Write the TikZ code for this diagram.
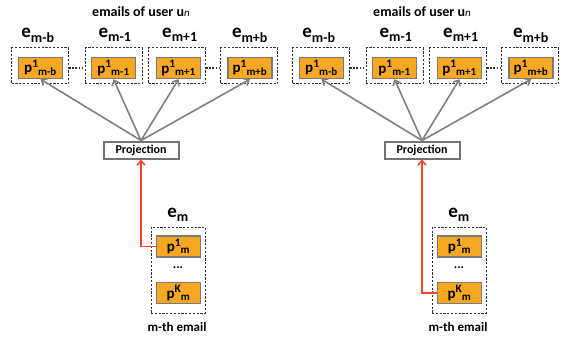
\documentclass[tikz,border=0pt]{standalone}
\usepackage{fontspec}
\setmainfont{Carlito}
\usetikzlibrary{arrows.meta}
\definecolor{orfill}{HTML}{F7A823}
\definecolor{orborder}{HTML}{7A7A7A}
\definecolor{arrgray}{HTML}{7F7F7F}
\definecolor{redarr}{HTML}{F2452B}
\tikzset{
  outerbox/.style={draw=black!80, dash pattern=on 2.2pt off 1.6pt, line width=1pt, minimum width=57pt, minimum height=36pt, inner sep=0pt},
  pbox/.style={draw=orborder, fill=orfill, line width=1.5pt, minimum width=44pt, minimum height=21pt, inner sep=0pt, font=\fontsize{15}{16}\selectfont\bfseries},
  elabel/.style={font=\fontsize{19}{20}\selectfont\bfseries, inner sep=0pt},
  projbox/.style={draw=black!55, line width=2pt, minimum width=75pt, minimum height=17pt, inner sep=0pt, font=\fontsize{12}{13}\selectfont\bfseries},
  titletext/.style={font=\fontsize{14}{15}\selectfont\bfseries, inner sep=0pt},
  grayarr/.style={draw=arrgray, line width=1.6pt, -{Straight Barb[length=4.5pt,width=8pt]}},
  redarrow/.style={draw=redarr, line width=1.5pt, -{Straight Barb[length=4.5pt,width=8pt]}},
  dotsline/.style={draw=black!80, line width=1.3pt, dash pattern=on 1.6pt off 1.6pt},
  ptext/.style={font=\fontsize{13}{14}\selectfont\bfseries, inner sep=0pt}
}
\newcommand{\psub}[2]{p\textsuperscript{\fontsize{11.5}{11.5}\selectfont #1}\kern-0.5pt\textsubscript{\fontsize{11}{11}\selectfont #2}}
\newcommand{\esub}[1]{e\raisebox{-1pt}{\textsubscript{\fontsize{14}{14}\selectfont #1}}}
\newcommand{\mypanel}[3]{%
  \begin{scope}[xshift=#2]
  \node[titletext] (#1title) at (141,12) {emails of user \textbf{u}{\fontsize{11}{11}\selectfont\mdseries\itshape n}};
  \node[outerbox] (#1o1) at (40,66) {};
  \node[outerbox] (#1o2) at (113.5,66) {};
  \node[outerbox] (#1o3) at (177,66) {};
  \node[outerbox] (#1o4) at (249,66) {};
  \node[pbox] (#1p1) at (40.5,68) {\psub{1}{m-b}};
  \node[pbox] (#1p2) at (113.5,68) {\psub{1}{m-1}};
  \node[pbox] (#1p3) at (178.5,68) {\psub{1}{m+1}};
  \node[pbox] (#1p4) at (250,68) {\psub{1}{m+b}};
  \node[elabel] (#1e1) at (38,35) {\esub{m-b}};
  \node[elabel] (#1e2) at (115,35) {\esub{m-1}};
  \node[elabel] (#1e3) at (180,35) {\esub{m+1}};
  \node[elabel] (#1e4) at (250,35) {\esub{m+b}};
  \draw[dotsline] (#1o1.east |- #1p1.center) -- (#1o2.west |- #1p1.center);
  \draw[dotsline] (#1o3.east |- #1p1.center) -- (#1o4.west |- #1p1.center);
  \node[projbox] (#1proj) at (141,150) {Projection};
  \draw[grayarr] (#1proj.north) -- (#1p1.south);
  \draw[grayarr] (#1proj.north) -- (#1p2.south);
  \draw[grayarr] (#1proj.north) -- (#1p3.south);
  \draw[grayarr] (#1proj.north) -- (#1p4.south);
  \node[elabel] (#1em) at (178,215) {\esub{m}};
  \node[outerbox, minimum width=54pt, minimum height=86pt] (#1om) at (178,270) {};
  \node[pbox] (#1pm1) at (178.5,246.5) {\psub{1}{m}};
  \node[ptext] (#1dots) at (178,268) {...};
  \node[pbox] (#1pmk) at (178.5,293) {\psub{K}{m}};
  \node[ptext] (#1cap) at (177,327) {m-th email};
  \draw[redarrow] (#1#3.west) -| (#1proj.south);
  \end{scope}}
\begin{document}
\begin{tikzpicture}[x=1pt,y=-1pt]
\useasboundingbox (0,0) rectangle (564,342);
\mypanel{L}{0pt}{pm1}
\mypanel{R}{281pt}{pmk}
\end{tikzpicture}
\end{document}
